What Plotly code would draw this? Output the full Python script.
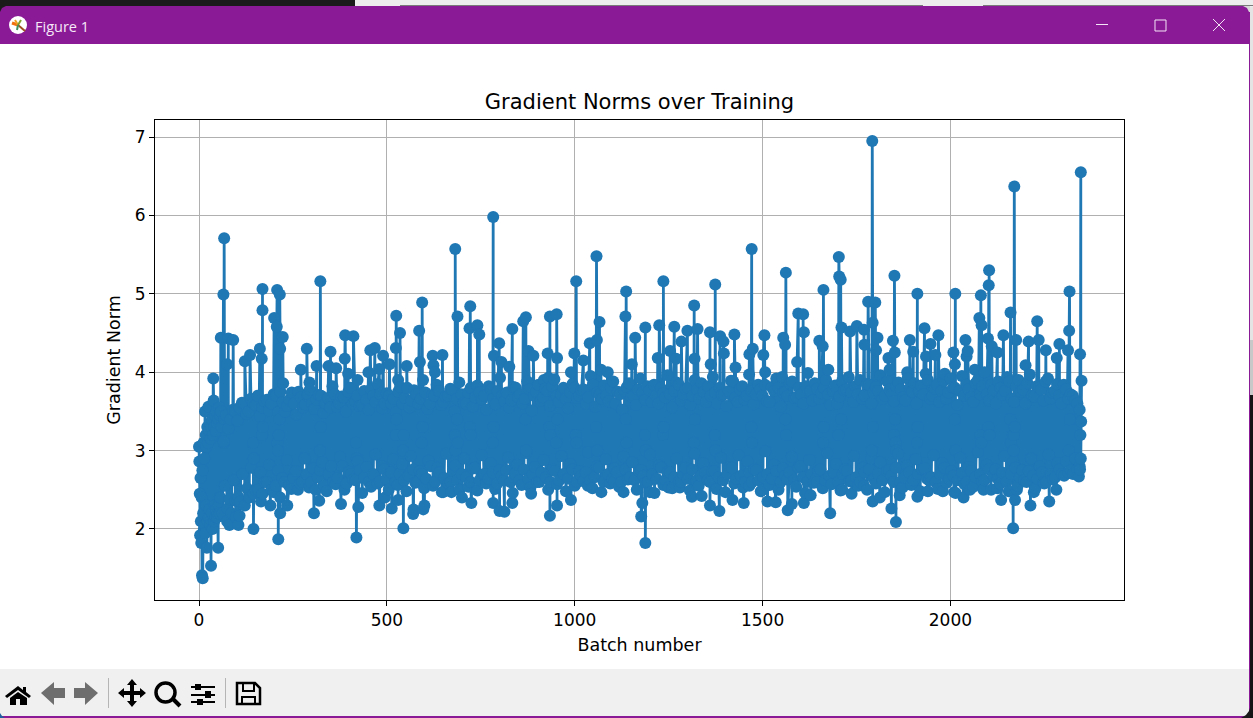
import plotly.graph_objects as go

# ---------- chart values ----------
TITLE = "Gradient Norms over Training"
X_LABEL = "Batch number"
Y_LABEL = "Gradient Norm"
x_ticks = [0, 500, 1000, 1500, 2000]
y_ticks = [2, 3, 4, 5, 6, 7]

start_points = [
    (0, 3.05), (1, 2.86), (2, 2.45), (3, 1.92), (4, 2.65), (5, 2.1), (6, 1.82), (7, 2.4), (8, 1.41), (9, 2.75),
    (10, 1.37), (11, 2.2), (12, 3.1), (13, 2.0), (14, 2.9), (15, 2.05), (16, 3.5), (17, 1.95), (18, 3.2), (19, 2.3),
    (20, 3.05), (21, 1.76), (22, 3.3), (23, 2.1), (24, 3.1), (25, 3.56), (26, 2.15), (27, 3.25), (28, 2.25),
    (29, 3.35), (30, 2.05), (31, 3.15), (32, 1.53), (33, 3.3), (34, 2.2), (35, 3.4), (36, 2.0), (37, 3.2),
    (38, 3.92), (39, 3.64), (40, 2.1), (41, 3.3), (42, 2.3), (43, 3.45), (44, 2.15), (45, 3.25), (46, 2.25),
    (47, 3.5), (48, 2.15), (49, 3.35), (50, 2.2), (51, 1.76), (52, 3.4), (53, 2.3), (54, 3.55), (55, 2.2),
    (56, 3.45), (57, 2.4), (59, 3.5),
]

peaks = [
    (58, 4.44), (65, 4.99), (67, 5.71), (75, 4.1), (78, 4.43), (91, 4.41), (122, 4.14), (136, 4.22),
    (162, 4.30), (167, 4.17), (169, 4.79), (169, 5.06), (200, 4.69), (207, 4.58), (208, 5.05), (215, 4.99),
    (216, 4.30), (223, 4.45), (224, 3.86), (271, 4.03), (287, 4.30), (290, 3.72), (294, 3.87), (313, 4.08),
    (323, 5.16), (345, 4.08), (350, 4.26), (365, 4.05), (388, 4.17), (389, 4.47), (397, 3.98), (411, 4.46),
    (422, 3.9), (451, 4.0), (456, 4.28), (468, 4.31), (480, 4.04), (490, 4.21), (507, 4.1), (524, 4.31),
    (525, 4.72), (530, 3.9), (535, 4.5), (553, 4.08), (586, 4.53), (588, 4.13), (594, 4.89), (622, 4.21),
    (624, 4.09), (628, 4.0), (648, 4.22), (682, 5.57), (688, 4.71), (720, 4.56), (722, 4.84), (741, 4.60),
    (746, 4.48), (783, 5.98), (785, 4.21), (799, 4.37), (805, 4.13), (826, 4.07), (834, 4.55), (863, 4.65),
    (870, 4.70), (877, 4.27), (890, 4.21), (918, 3.9), (928, 4.24), (930, 3.93), (934, 4.71), (952, 4.74),
    (953, 4.18), (990, 4.0), (999, 4.24), (1004, 5.16), (1023, 4.15), (1040, 4.37), (1058, 5.48), (1059, 4.41),
    (1066, 4.64), (1070, 4.03), (1088, 4.0), (1135, 4.71), (1137, 5.03), (1152, 4.1), (1161, 4.44), (1188, 4.57),
    (1221, 4.18), (1225, 4.60), (1236, 5.16), (1254, 4.27), (1265, 4.58), (1270, 4.17), (1284, 4.39),
    (1300, 4.53), (1318, 4.85), (1319, 4.17), (1327, 4.55), (1360, 4.51), (1362, 4.1), (1374, 5.12), (1387, 4.46),
    (1396, 4.39), (1397, 4.24), (1425, 4.48), (1428, 4.06), (1465, 4.23), (1471, 5.57), (1474, 4.30), (1502, 4.22),
    (1505, 4.47), (1507, 4.0), (1552, 3.94), (1555, 4.44), (1560, 4.35), (1562, 5.27), (1592, 4.13), (1595, 4.75),
    (1608, 4.74), (1610, 4.51), (1651, 4.40), (1660, 4.33), (1662, 5.05), (1675, 4.03), (1703, 5.47), (1704, 5.22),
    (1708, 5.18), (1710, 4.57), (1733, 4.52), (1751, 4.59), (1770, 4.54), (1771, 4.35), (1781, 4.9), (1792, 6.95),
    (1793, 4.63), (1800, 4.89), (1802, 4.28), (1806, 4.44), (1835, 4.18), (1838, 4.03), (1847, 4.40), (1851, 5.23),
    (1852, 4.25), (1885, 4.0), (1892, 4.41), (1901, 4.26), (1912, 5.0), (1931, 4.56), (1935, 4.2), (1947, 4.36),
    (1960, 4.22), (1968, 4.47), (1985, 3.98), (2008, 4.25), (2012, 4.1), (2013, 5.0), (2040, 4.41), (2043, 4.2),
    (2046, 4.27), (2065, 4.03), (2077, 4.69), (2081, 4.98), (2083, 4.6), (2100, 4.43), (2102, 5.11), (2103, 5.30),
    (2110, 4.33), (2125, 4.25), (2141, 4.47), (2160, 4.76), (2170, 6.37), (2175, 4.41), (2200, 4.09), (2208, 4.39),
    (2231, 4.65), (2235, 4.41), (2254, 4.28), (2283, 4.18), (2290, 4.36), (2313, 4.28), (2316, 4.53), (2317, 5.03),
    (2345, 4.23), (2347, 6.55), (2349, 3.89),
]

lows = [
    (76, 2.26), (81, 2.05), (97, 2.36), (103, 2.36), (105, 2.05), (108, 2.17), (145, 2.0), (165, 2.35),
    (190, 2.3), (211, 1.87), (216, 2.2), (235, 2.3), (306, 2.2), (320, 2.36), (378, 2.32), (419, 1.89),
    (424, 2.28), (480, 2.3), (495, 2.4), (513, 2.26), (530, 2.37), (544, 2.01), (570, 2.19), (571, 2.25),
    (597, 2.25), (600, 2.3), (650, 2.47), (672, 2.47), (700, 2.4), (725, 2.33), (783, 2.33), (800, 2.23),
    (813, 2.22), (834, 2.33), (884, 2.45), (934, 2.17), (953, 2.3), (990, 2.37), (1035, 2.55), (1105, 2.6),
    (1130, 2.47), (1177, 2.16), (1180, 2.33), (1188, 1.82), (1200, 2.47), (1250, 2.53), (1280, 2.53),
    (1312, 2.41), (1338, 2.42), (1360, 2.3), (1385, 2.23), (1420, 2.37), (1450, 2.33), (1465, 2.55), (1500, 2.5),
    (1513, 2.35), (1535, 2.34), (1567, 2.24), (1578, 2.32), (1610, 2.33), (1628, 2.43), (1645, 2.6), (1680, 2.2),
    (1712, 2.5), (1737, 2.45), (1770, 2.55), (1793, 2.35), (1812, 2.4), (1843, 2.26), (1855, 2.09), (1865, 2.43),
    (1912, 2.41), (1940, 2.48), (1980, 2.48), (2010, 2.47), (2035, 2.4), (2052, 2.5), (2088, 2.5), (2125, 2.52),
    (2135, 2.37), (2167, 2.01), (2172, 2.37), (2177, 2.5), (2213, 2.3), (2222, 2.47), (2248, 2.6), (2263, 2.35),
    (2282, 2.5), (2342, 2.67), (2345, 2.76), (2347, 2.9),
]

# neighbours on either side of the tall spikes and deep dips
stem_feet = [
    (66, 3.1), (68, 3.4), (168, 3.2), (170, 3.3), (209, 3.1), (214, 3.4), (322, 3.0), (324, 3.3), (524, 3.2),
    (526, 3.4), (593, 3.1), (595, 3.3), (681, 3.2), (683, 3.0), (687, 3.4), (689, 3.1), (721, 3.3), (723, 3.2),
    (782, 3.1), (784, 3.3), (869, 3.4), (871, 3.0), (933, 3.3), (935, 3.2), (951, 3.1), (954, 3.4), (1003, 3.2),
    (1005, 3.1), (1057, 3.3), (1060, 3.0), (1136, 3.4), (1138, 3.1), (1235, 3.2), (1237, 3.3), (1317, 3.1),
    (1320, 3.4), (1373, 3.2), (1375, 3.0), (1470, 3.3), (1472, 3.1), (1561, 3.4), (1563, 3.2), (1661, 3.1),
    (1663, 3.3), (1702, 3.2), (1709, 3.4), (1791, 3.0), (1794, 3.3), (1850, 3.2), (1853, 3.4), (1911, 3.1),
    (1913, 3.3), (2012, 3.4), (2014, 3.0), (2080, 3.2), (2082, 3.1), (2101, 3.3), (2104, 3.2), (2159, 3.4),
    (2161, 3.1), (2169, 3.2), (2171, 3.3), (2315, 3.0), (2318, 3.4), (2346, 3.2), (2348, 3.37),
    (144, 3.1), (146, 2.9), (210, 3.0), (212, 3.2), (418, 3.1), (420, 2.9), (543, 3.0), (545, 3.2), (1187, 3.2),
    (1189, 3.0), (1854, 3.1), (1856, 3.0), (2166, 3.2), (2168, 3.0),
]

band_upper = [
    3.3, 3.12, 3.45, 3.28, 3.4, 3.52, 3.5, 3.38, 3.55, 3.61, 3.6, 3.47, 3.5, 3.66, 3.6, 3.58, 3.7, 3.44, 3.55, 3.63,
    3.65, 3.51, 3.6, 3.72, 3.7, 3.49, 3.75, 3.62, 3.5, 3.57, 3.65, 3.74, 3.6, 3.46, 3.75, 3.68, 3.55, 3.59, 3.7, 3.78,
    3.6, 3.53, 3.65, 3.71, 3.7, 3.48, 3.6, 3.67, 3.55, 3.82, 3.72, 3.56, 3.6, 3.69, 3.68, 3.5, 3.75, 3.8, 3.6, 3.63,
    3.7, 3.57, 3.58, 3.76, 3.65, 3.52, 3.78, 3.7, 3.62, 3.85, 3.72, 3.54, 3.6, 3.73, 3.7, 3.6, 3.66, 3.49, 3.75, 3.81,
    3.6, 3.67, 3.8, 3.55, 3.64, 3.77, 3.72, 3.6, 3.66, 3.9, 3.74, 3.53, 3.6, 3.71, 3.7, 3.84, 3.76, 3.58, 3.62, 3.69,
    3.7, 3.79, 3.78, 3.5, 3.66, 3.87, 3.72, 3.61, 3.6, 3.74, 3.8, 3.56, 3.68, 3.83, 3.74, 3.65, 3.7, 3.52, 3.82, 3.78,
    3.66, 3.59, 3.76, 3.93, 3.7, 3.63, 3.74, 3.55, 3.64, 3.81, 3.8, 3.68, 3.72, 3.6, 3.66, 3.88, 3.78, 3.51, 3.7, 3.75,
    3.84, 3.64, 3.68, 3.79, 3.76, 3.57, 3.82, 3.91, 3.7, 3.62, 3.72, 3.8, 3.66, 3.54, 3.74, 3.85, 3.8, 3.67, 3.7, 3.77,
    3.78, 3.6, 3.68, 3.95, 3.84, 3.56, 3.74, 3.72, 3.66, 3.83, 3.7, 3.63, 3.8, 3.88, 3.6, 3.75, 3.72, 3.52, 3.76, 3.81,
    3.86, 3.69, 3.7, 3.58, 3.78, 3.92, 3.74, 3.65, 3.82, 3.77, 3.62, 3.84, 3.7, 3.6, 3.8, 3.73, 3.68, 3.96, 3.72, 3.55,
    3.76, 3.87, 3.84, 3.64, 3.72, 3.79, 3.8, 3.58, 3.7, 3.9, 3.78, 3.66, 3.86, 3.75, 3.62, 3.82, 3.7, 3.94, 3.74, 3.6,
    3.8, 3.71, 3.72, 3.57, 3.76, 3.89, 3.88, 3.68, 3.62, 3.78, 3.82, 3.65, 3.7, 3.97, 3.76, 3.59, 3.72, 3.84, 3.78, 3.7,
    3.84, 3.63, 3.62, 3.81, 3.76, 3.92, 3.8, 3.56, 3.74, 3.75, 3.7, 3.86, 3.88, 3.67, 3.68, 3.8, 3.72, 3.6, 3.82, 3.99,
    3.76, 3.64, 3.86, 3.79, 3.66, 3.73, 3.8, 3.9, 3.72, 3.58, 3.76, 3.83, 3.6, 3.69, 3.88, 3.77, 3.78, 3.94, 3.74, 3.62,
    3.82, 3.72, 3.9, 3.66, 3.7, 3.85, 3.84, 3.6, 3.74, 3.81, 3.76, 3.96, 3.66, 3.7, 3.88, 3.78, 3.72, 3.63, 3.82, 3.87,
    3.78, 3.68, 3.64, 3.92, 3.8, 3.75, 3.86, 3.6, 3.76, 3.83, 3.72, 3.98, 3.9, 3.66, 3.7, 3.79, 3.84, 3.62, 3.76, 3.89,
    3.66, 3.74, 3.92, 3.8, 3.8, 3.58, 3.76, 3.95, 3.7, 3.84, 3.78, 3.68, 3.62, 3.86, 3.9, 3.72, 3.82, 4.0, 3.72, 3.64,
    3.84, 3.77, 3.6, 3.88, 3.8, 3.71, 3.76, 3.94, 3.88, 3.66, 3.62, 3.82, 3.9, 3.75, 3.78, 3.6, 3.86, 3.97, 3.7, 3.69,
    3.82, 3.8, 3.78, 3.64, 3.88, 3.92, 3.66, 3.74, 3.76, 3.85, 3.7, 3.6, 3.84, 3.78, 3.66, 3.72, 3.7, 3.64, 3.6, 3.52,
]

band_lower = [
    2.2, 2.55, 2.1, 2.38, 2.2, 2.62, 2.15, 2.41, 2.35, 2.7, 2.3, 2.52, 2.4, 2.78, 2.45, 2.49,
    2.5, 2.72, 2.45, 2.6, 2.6, 2.82, 2.5, 2.47, 2.55, 2.75, 2.4, 2.65, 2.6, 2.88, 2.55, 2.51,
    2.65, 2.74, 2.5, 2.58, 2.6, 2.9, 2.7, 2.53, 2.6, 2.77, 2.5, 2.66, 2.75, 2.85, 2.55, 2.48,
    2.7, 2.8, 2.6, 2.57, 2.65, 2.92, 2.8, 2.5, 2.58, 2.73, 2.7, 2.63, 2.62, 2.86, 2.75, 2.46,
    2.66, 2.79, 2.6, 2.54, 2.7, 2.95, 2.58, 2.61, 2.8, 2.76, 2.64, 2.5, 2.72, 2.89, 2.6, 2.56,
    2.7, 2.83, 2.62, 2.48, 2.68, 2.93, 2.76, 2.59, 2.6, 2.74, 2.7, 2.52, 2.64, 2.87, 2.8, 2.55,
    2.6, 2.78, 2.72, 2.47, 2.65, 2.96, 2.58, 2.6, 2.74, 2.81, 2.62, 2.5, 2.7, 2.9, 2.66, 2.54,
    2.6, 2.77, 2.78, 2.49, 2.62, 2.94, 2.7, 2.58, 2.64, 2.84, 2.72, 2.51, 2.58, 2.75, 2.68, 2.62,
    2.75, 2.91, 2.6, 2.46, 2.7, 2.82, 2.62, 2.56, 2.76, 2.97, 2.64, 2.53, 2.7, 2.79, 2.6, 2.6,
    2.72, 2.88, 2.66, 2.5, 2.6, 2.76, 2.74, 2.57, 2.62, 2.93, 2.7, 2.48, 2.64, 2.83, 2.76, 2.55,
    2.6, 2.74, 2.68, 2.61, 2.72, 2.98, 2.62, 2.52, 2.66, 2.8, 2.78, 2.47, 2.6, 2.89, 2.7, 2.58,
    2.64, 2.77, 2.72, 2.54, 2.6, 2.92, 2.76, 2.63, 2.66, 2.85, 2.62, 2.5, 2.74, 2.75, 2.68, 2.59,
    2.6, 2.95, 2.7, 2.46, 2.64, 2.81, 2.78, 2.56, 2.62, 2.73, 2.72, 2.52, 2.66, 2.9, 2.6, 2.6,
    2.7, 2.78, 2.64, 2.49, 2.76, 2.96, 2.62, 2.55, 2.68, 2.84, 2.72, 2.62, 2.6, 2.74, 2.74, 2.51,
    2.66, 2.91, 2.62, 2.47, 2.7, 2.79, 2.78, 2.58, 2.64, 2.94, 2.68, 2.53, 2.6, 2.86, 2.72, 2.6,
    2.76, 2.75, 2.62, 2.48, 2.66, 2.99, 2.7, 2.56, 2.64, 2.82, 2.74, 2.5, 2.6, 2.77, 2.68, 2.63,
    2.72, 2.92, 2.62, 2.54, 2.78, 2.8, 2.66, 2.46, 2.6, 2.88, 2.7, 2.59, 2.64, 2.74, 2.76, 2.52,
    2.62, 2.97, 2.68, 2.57, 2.72, 2.83, 2.6, 2.49, 2.7, 2.76, 2.74, 2.61, 2.62, 2.93, 2.66, 2.55,
    2.6, 2.78, 2.72, 2.5, 2.76, 2.9, 2.64, 2.58, 2.7, 2.85, 2.62, 2.47, 2.74, 2.75, 2.68, 2.6,
    2.78, 2.96, 2.6, 2.53, 2.66, 2.81, 2.72, 2.56, 2.62, 2.89, 2.7, 2.48, 2.76, 2.77, 2.64, 2.62,
    2.66, 2.94, 2.6, 2.51, 2.7, 2.84, 2.78, 2.59, 2.64, 2.74, 2.68, 2.46, 2.62, 2.91, 2.72, 2.57,
    2.6, 2.79, 2.74, 2.54, 2.66, 2.98, 2.7, 2.61, 2.62, 2.82, 2.76, 2.5, 2.68, 2.76, 2.64, 2.58,
    2.72, 2.93, 2.6, 2.48, 2.7, 2.86, 2.78, 2.55, 2.66, 2.75, 2.62, 2.6, 2.74, 2.9, 2.68, 2.52,
    2.64, 2.8, 2.72, 2.58, 2.6, 2.95, 2.7, 2.63, 2.66, 2.84, 2.76, 2.7, 2.68, 2.86, 2.72, 2.75,
    2.7, 2.9, 2.76, 2.8,
]

# ---------- assembling the single plotted series ----------
FIRST, LAST = 60, 2344
upper_step = (LAST - FIRST) / (len(band_upper) - 1)
lower_step = (LAST - FIRST - upper_step / 2) / (len(band_lower) - 1)
upper_points = [(FIRST + i * upper_step, v) for i, v in enumerate(band_upper)]
lower_points = [(FIRST + upper_step / 2 + i * lower_step, v) for i, v in enumerate(band_lower)]
series = sorted(start_points + peaks + lows + stem_feet + upper_points + lower_points, key=lambda p: p[0])
batches = [p[0] for p in series]
grad_norms = [p[1] for p in series]

# ---------- layout in window pixels ----------
W, H = 1253, 718
AX_L, AX_R, AX_T, AX_B = 155, 1124, 120, 600
X_RANGE = [-117.1, 2462.0]
Y_RANGE = [1.094, 7.217]


def fx(p):
    return (p - AX_L) / (AX_R - AX_L)


def fy(p):
    return (AX_B - p) / (AX_B - AX_T)


def rect(x0, y0, x1, y1, color, layer="below"):
    return dict(type="rect", xref="paper", yref="paper", x0=fx(x0), x1=fx(x1), y0=fy(y0), y1=fy(y1),
                fillcolor=color, line_width=0, layer=layer)


def poly(points, color=None, line=None, width=0, close=True):
    path = "M" + " L".join(f"{fx(a):.5f},{fy(b):.5f}" for a, b in points) + (" Z" if close else "")
    d = dict(type="path", xref="paper", yref="paper", path=path, layer="above",
             line=dict(width=width, color=line or "rgba(0,0,0,0)"))
    if color:
        d["fillcolor"] = color
    return d


def oval(x0, y0, x1, y1, color=None, line=None, width=0):
    d = dict(type="circle", xref="paper", yref="paper", x0=fx(x0), x1=fx(x1), y0=fy(y0), y1=fy(y1), layer="above",
             line=dict(width=width, color=line or "rgba(0,0,0,0)"))
    if color:
        d["fillcolor"] = color
    return d


PURPLE = "#8A1A96"
TOOLBAR = "#F0F0F0"
INK = "#000000"
DIM = "#6E6E6E"
DARK = "#1B1B1B"

shapes = [
    rect(0, 0, 355, 7, DARK),
    rect(355, 0, 1253, 7, "#EDEDED"),
    rect(400, 5, 923, 6, "#7A7A7A"),
    rect(983, 5, 1253, 6, "#7A7A7A"),
    rect(0, 6, 1249, 44, PURPLE),
    rect(0, 44, 1249, 669, "#FFFFFF"),
    rect(0, 669, 1249, 716, TOOLBAR),
    rect(0, 716, 1249, 718, PURPLE),
    rect(1249, 6, 1250, 718, PURPLE),
    rect(1250, 7, 1253, 340, "#E4E4E4"),
    rect(1250, 340, 1253, 395, "#C8C8C8"),
    rect(1250, 395, 1253, 718, "#141414"),
    # rounded window corners
    poly([(0, 6), (6, 6), (2, 8), (0, 12)], color=DARK),
    poly([(1250, 6), (1243, 6), (1247, 8), (1249, 12), (1250, 12)], color="#D8D8D8"),
    poly([(1250, 718), (1241, 718), (1246, 715), (1249, 711), (1250, 708)], color=DARK),
    poly([(0, 718), (5, 718), (2, 716), (0, 713)], color="#1F5FA0"),
    # title bar buttons
    rect(1096, 24, 1108, 25, "#F4E6F6", "above"),
    poly([(1155, 20), (1166, 20), (1166, 31), (1155, 31)], line="#F4E6F6", width=1),
    poly([(1213, 19), (1225, 31)], line="#F4E6F6", width=1, close=False),
    poly([(1225, 19), (1213, 31)], line="#F4E6F6", width=1, close=False),
    # window icon
    oval(9, 16, 27, 34, color="#FFFFFF"),
    poly([(12, 23), (18, 25)], line="#F07010", width=3, close=False),
    poly([(15, 20), (18, 25)], line="#F0A020", width=2, close=False),
    poly([(18, 25), (21, 20)], line="#80A030", width=2, close=False),
    poly([(18, 25), (25, 31)], line="#A05020", width=2, close=False),
    poly([(18, 25), (17, 30)], line="#409060", width=2, close=False),
    # toolbar: home
    poly([(18, 686), (5, 696), (7, 698), (18, 690), (29, 698), (31, 696), (26, 692), (26, 687), (23, 687), (23, 690)], color=INK),
    poly([(18, 692), (10, 698), (10, 705), (16, 705), (16, 699), (20, 699), (20, 705), (27, 705), (27, 698)], color=INK),
    # toolbar: back and forward
    poly([(41, 693), (54, 682), (54, 688), (65, 688), (65, 698), (54, 698), (54, 705)], color=DIM),
    poly([(98, 693), (85, 682), (85, 688), (74, 688), (74, 698), (85, 698), (85, 705)], color=DIM),
    rect(108, 678, 109, 708, "#B5B5B5", "above"),
    # toolbar: pan
    poly([(132, 679), (137, 685), (134, 685), (134, 691), (140, 691), (140, 688), (146, 693), (140, 698), (140, 695),
          (134, 695), (134, 701), (137, 701), (132, 707), (127, 701), (130, 701), (130, 695), (124, 695), (124, 698),
          (118, 693), (124, 688), (124, 691), (130, 691), (130, 685), (127, 685)], color=INK),
    # toolbar: zoom
    oval(156, 683, 175, 702, line=INK, width=3.5),
    poly([(172, 698), (180, 706)], line=INK, width=4, close=False),
    # toolbar: sliders
    rect(191, 686, 215, 688, INK, "above"), rect(191, 694, 215, 696, INK, "above"), rect(191, 701, 215, 703, INK, "above"),
    rect(195, 684, 201, 690, INK, "above"), rect(205, 691, 211, 698, INK, "above"), rect(197, 699, 203, 705, INK, "above"),
    rect(225, 678, 226, 708, "#B5B5B5", "above"),
    # toolbar: save
    poly([(237, 683), (255, 683), (260, 688), (260, 704), (237, 704)], line=INK, width=2.5),
    poly([(243, 683), (243, 691), (254, 691), (254, 683)], line=INK, width=2, close=False),
    poly([(242, 704), (242, 697), (255, 697), (255, 704)], line=INK, width=2, close=False),
]

fig = go.Figure(go.Scatter(
    x=batches, y=grad_norms, mode="lines+markers",
    line=dict(color="#1F77B4", width=2.8, simplify=False),
    marker=dict(color="#1F77B4", size=12, line_width=0, maxdisplayed=0),
    hoverinfo="skip", showlegend=False, cliponaxis=True,
))

axis_common = dict(
    showgrid=True, gridcolor="#B0B0B0", gridwidth=1.2, zeroline=False,
    showline=True, linecolor="#000000", linewidth=1, mirror=True,
    ticks="outside", ticklen=5, tickwidth=1, tickcolor="#000000",
    tickfont=dict(family="DejaVu Sans", size=17, color="#000000"),
)

fig.update_layout(
    width=W, height=H, autosize=False,
    margin=dict(l=AX_L, r=W - AX_R, t=AX_T, b=H - AX_B, pad=0),
    paper_bgcolor="#FFFFFF", plot_bgcolor="rgba(0,0,0,0)",
    title=dict(text=TITLE, x=0.5, xref="paper", xanchor="center", y=1 - 102 / H, yanchor="middle",
               font=dict(family="DejaVu Sans", size=21, color="#000000")),
    xaxis=dict(range=X_RANGE, tickmode="array", tickvals=x_ticks,
               title=dict(text=X_LABEL, standoff=9, font=dict(family="DejaVu Sans", size=17.5, color="#000000")),
               **axis_common),
    yaxis=dict(range=Y_RANGE, tickmode="array", tickvals=y_ticks,
               title=dict(text=Y_LABEL, standoff=9, font=dict(family="DejaVu Sans", size=17.5, color="#000000")),
               **axis_common),
    shapes=shapes,
    annotations=[
        dict(text="Figure 1", xref="paper", yref="paper", x=fx(33), y=fy(26), xanchor="left", yanchor="middle",
             showarrow=False, font=dict(family="Open Sans", size=14.5, color="#F6E8F8")),
    ],
)

fig.write_html(
    "out.html",
    config={"displayModeBar": False},
    post_script="document.body.style.margin='0';document.body.style.overflow='hidden';",
)
